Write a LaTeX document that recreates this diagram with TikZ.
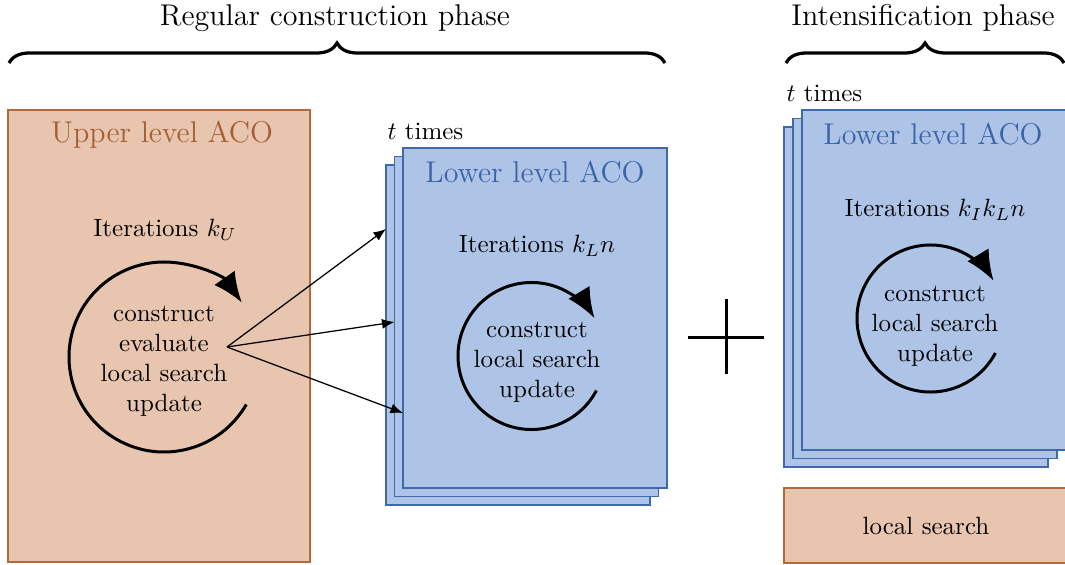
\documentclass[tikz,border=0pt]{standalone}
\usetikzlibrary{arrows.meta,decorations.pathreplacing}

\definecolor{upfill}{HTML}{E8C5AE}
\definecolor{updraw}{HTML}{B5683A}
\definecolor{uptext}{HTML}{A85E33}
\definecolor{lofill}{HTML}{AEC4E7}
\definecolor{lodraw}{HTML}{3F69AD}
\definecolor{lotext}{HTML}{3B63A7}

\begin{document}
\begin{tikzpicture}[
  x=0.4pt, y=-0.4pt,
  upperbox/.style={draw=updraw, fill=upfill, line width=0.7pt, inner sep=0pt, outer sep=0pt},
  lowerbox/.style={draw=lodraw, fill=lofill, line width=0.7pt, inner sep=0pt, outer sep=0pt,
                   minimum width=105.6pt, minimum height=136pt},
  phasebrace/.style={decorate, decoration={brace, amplitude=8pt}, line width=1.3pt},
  cyclearrow/.style={line width=1.2pt, -{Latex[length=12pt,width=10pt]}},
  feed/.style={line width=0.5pt, -{Latex[length=5pt,width=4pt]}},
  heading/.style={font=\large},
  uptitle/.style={font=\large, text=uptext},
  lotitle/.style={font=\large, text=lotext},
  cycletext/.style={align=center, inner sep=0pt},
]
\useasboundingbox (0,0) rectangle (1065,565);

% phase headings and braces
\node[heading] (regular) at (335,18) {Regular construction phase};
\node[heading] (intens) at (923,18) {Intensification phase};
\draw[phasebrace] (9,63) -- (665,63);
\draw[phasebrace] (786,63) -- (1064,63);

% upper level colony
\node[upperbox, minimum width=120.8pt, minimum height=180.8pt] (upper) at (159,336) {};
\node[uptitle] (uppertitle) at (162,135) {Upper level ACO};
\node (uiter) at (165,230) {Iterations $k_U$};
\coordinate (ucyc) at (164,357);
\draw[cyclearrow] (ucyc) ++(30:95) arc[start angle=30, end angle=325, radius=95];
\node[cycletext] (utext) at (164,361) {construct\\evaluate\\local search\\update};
\coordinate (fan) at (227,347);

% lower level colonies of the regular phase
\node[lowerbox] (lback) at (518,335) {};
\node[lowerbox] (lmid) at (526.5,326.5) {};
\node[lowerbox] (lfront) at (535,318) {};
\node[anchor=west, inner sep=0pt] (ltimes) at (387,131) {$t$ times};
\node[lotitle] (ltitle) at (535,172) {Lower level ACO};
\node (liter) at (537,246) {Iterations $k_L n$};
\coordinate (lcyc) at (531.5,356);
\draw[cyclearrow] (lcyc) ++(28:73.5) arc[start angle=28, end angle=329, radius=73.5];
\node[cycletext] (ltext) at (537,362) {construct\\local search\\update};

% calls from the upper colony
\draw[feed] (fan) -- ([yshift=42.4pt]lback.west);
\draw[feed] (fan) -- ([yshift=1.8pt]lmid.west);
\draw[feed] (fan) -- ([yshift=-38pt]lfront.west);

% plus sign
\draw[line width=1.2pt] (726,299) -- (726,374);
\draw[line width=1.2pt] (688,337) -- (764,337);

% lower level colonies of the intensification phase
\node[lowerbox] (iback) at (916,297) {};
\node[lowerbox] (imid) at (925,288.5) {};
\node[lowerbox] (ifront) at (934,280) {};
\node[anchor=west, inner sep=0pt] (itimes) at (786,93) {$t$ times};
\node[lotitle] (ititle) at (933,134) {Lower level ACO};
\node (iiter) at (935,210) {Iterations $k_I k_L n$};
\coordinate (icyc) at (930.5,318.5);
\draw[cyclearrow] (icyc) ++(28:73.5) arc[start angle=28, end angle=329, radius=73.5];
\node[cycletext] (itext) at (935,326) {construct\\local search\\update};

% final local search
\node[upperbox, minimum width=113.6pt, minimum height=30pt] (ls) at (926,525.5) {local search};
\end{tikzpicture}
\end{document}
